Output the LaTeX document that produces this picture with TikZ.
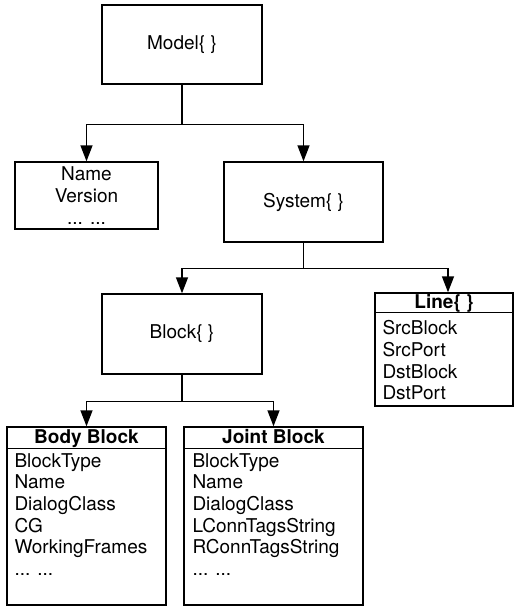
\documentclass[tikz,border=0pt]{standalone}
\usepackage{fontspec}
\setmainfont{TeX Gyre Heros}
\usetikzlibrary{arrows.meta,calc}
\newcommand\moredots{... ...}
\tikzset{
  box/.style={draw, line width=1.4pt, inner sep=0pt, align=center,
    font=\fontsize{19}{21.6}\selectfont},
  lbl/.style={font=\fontsize{19}{21.6}\selectfont, inner sep=0pt},
  hdr/.style={font=\fontsize{19}{21.6}\selectfont\bfseries, inner sep=0pt, anchor=base},
  item/.style={lbl, anchor=base west},
  wire/.style={line width=1.4pt},
  conn/.style={wire, -{Triangle[length=16pt,width=12pt]}},
}
\begin{document}
\begin{tikzpicture}[x=1pt,y=-1pt]
\useasboundingbox (0,0) rectangle (515,606);

% plain boxes
\node[box, minimum width=160, minimum height=79] (model) at (182,44.5) {Model\{ \}};
\node[box, minimum width=143, minimum height=67] (name) at (86.5,195.5) {Name\\Version\\\moredots};
\node[box, minimum width=159, minimum height=80] (system) at (303.5,202) {System\{ \}};
\node[box, minimum width=160, minimum height=80] (block) at (182,334) {Block\{ \}};

% boxes with a title row
\node[box, minimum width=138, minimum height=113] (line) at (444,349.5) {};
\node[box, minimum width=159, minimum height=178] (body) at (86.5,516) {};
\node[box, minimum width=179, minimum height=178] (joint) at (273.5,516) {};

\draw[wire] ($(line.north west)+(0,20)$) -- ($(line.north east)+(0,20)$);
\draw[wire] ($(body.north west)+(0,22)$) -- ($(body.north east)+(0,22)$);
\draw[wire] ($(joint.north west)+(0,22)$) -- ($(joint.north east)+(0,22)$);

\node[hdr] (lineh) at ($(line.north)+(0,16.5)$) {Line\{ \}};
\node[hdr] (bodyh) at ($(body.north)+(0,17.5)$) {Body Block};
\node[hdr] (jointh) at ($(joint.north)+(0,17.5)$) {Joint Block};

\foreach \t [count=\i] in {SrcBlock,SrcPort,DstBlock,DstPort}
  \node[item] (line-\i) at ($(line.north west)+(8,42.5+21.6*\i-21.6)$) {\t};
\foreach \t [count=\i] in {BlockType,Name,DialogClass,CG,WorkingFrames,\moredots}
  \node[item] (body-\i) at ($(body.north west)+(8,41+21.6*\i-21.6)$) {\t};
\foreach \t [count=\i] in {BlockType,Name,DialogClass,LConnTagsString,RConnTagsString,\moredots}
  \node[item] (joint-\i) at ($(joint.north west)+(9,41+21.6*\i-21.6)$) {\t};

% connectors
\coordinate (m1) at ($(model.south)+(0,40)$);
\draw[wire] (model.south) -- (m1);
\draw[conn] (m1) -| (name.north);
\draw[conn] (m1) -| (system.north);

\coordinate (s1) at ($(system.south)+(0,26)$);
\draw[wire] (system.south) -- (s1);
\draw[conn] (s1) -| (block.north);
\draw[conn] (s1) -| ([xshift=4pt]line.north);

\coordinate (b1) at ($(block.south)+(0,27)$);
\draw[wire] (block.south) -- (b1);
\draw[conn] (b1) -| (body.north);
\draw[conn] (b1) -| (joint.north);
\end{tikzpicture}
\end{document}
